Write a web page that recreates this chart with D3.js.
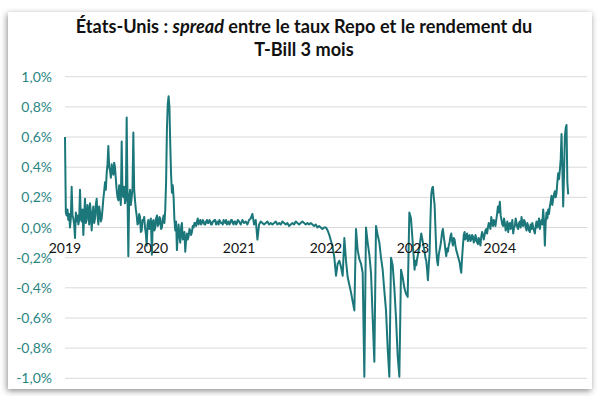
<!DOCTYPE html>
<html><head><meta charset="utf-8">
<script src="https://cdn.jsdelivr.net/npm/d3@7"></script>
<style>
html,body{margin:0;padding:0;background:#fff;}
svg{display:block;}
</style></head>
<body>
<svg id="chart" width="599" height="396"></svg>
<script>
// ---- Data (spread Repo - T-Bill 3 mois, en %), readings every 3.5 or 7 days ----
const spread2019 = [0.60,0.10,0.08,0.12,0.05,0.09,0.00,0.06,0.27,0.08,0.06,0.02,-0.07,0.10,0.04,0.08,0.02,0.05,0.25,0.06,0.04,0.12,-0.05,0.08,0.19,0.03,0.05,0.15,0.12,0.02,0.16,0.10,-0.02,0.08,0.14,0.03,0.06,0.15,0.19,0.08,0.02,0.14,0.10,0.04,0.06,0.12,0.19,0.24,0.30,0.25,0.36,0.42,0.54,0.40,0.38,0.33,0.42,0.37,0.35,0.43,0.40,0.32,0.25,0.20,0.18,0.28,0.22,0.15,0.57,0.22,0.20,0.27,0.16,0.19,0.73,0.21,-0.19,0.20,0.25,0.15,0.20,0.26,0.63,0.25,0.18,0.12,0.08,0.02,0.03,0.09,0.07,-0.03,-0.02,0.05,0.04,0.07,0.00,-0.04,-0.12,0.02,0.05,-0.01,0.02,0.06];
const spread2020 = [-0.18,0.04,0.05,-0.02,0.00,0.06,0.08,0.01,0.02,0.07,0.06,-0.01,0.00,0.05,0.08,0.03,0.12,0.30,0.65,0.82,0.87,0.80,0.55,0.35,0.23,0.28,0.20,0.05,-0.02,0.04,-0.15,-0.05,0.02,-0.06,-0.10,0.00,0.03,-0.08,-0.06,-0.03,-0.16,-0.08,-0.04,-0.08,-0.06,-0.01,-0.02,-0.05,-0.03,0.01,0.00,0.03,0.03,0.01,0.04,0.06,0.02,0.04,0.05,0.02,0.03,0.05,0.04,0.02,0.02,0.04,0.05,0.03,0.03,0.05,0.04,0.02,0.02,0.04,0.04,0.05,0.05,0.02,0.03,0.04,0.02,0.05,0.04,0.03,0.03,0.02,0.05,0.04,0.03,0.05,0.02,0.03,0.04,0.02,0.03,0.05,0.05,0.03,0.02,0.04,0.04,0.02,0.03,0.05];
const spread2021 = [0.04,0.02,0.05,0.03,0.04,0.02,0.05,0.06,0.09,0.02,0.05,-0.08,0.02,0.04,0.03,0.02,0.03,0.04,0.02,0.03,0.02,0.03,0.04,0.02,0.03,0.02,0.04,0.03,0.02,0.03,0.01,0.02,0.03,0.02,0.04,0.03,0.02,0.03,0.04,0.03,0.02,0.03,0.02,0.03,0.02,0.01,0.02,0.00,0.01,0.00,-0.01,0.00];
const spread2022 = [0.00,-0.02,-0.05,-0.09,-0.13,-0.20,-0.32,-0.24,-0.22,-0.26,-0.32,-0.07,-0.22,-0.33,-0.38,-0.43,-0.49,-0.55,-0.01,-0.15,-0.21,-0.24,-0.30,-0.99,0.00,-0.10,-0.18,-0.30,-0.60,-0.89,0.01,-0.05,-0.10,-0.20,-0.28,-0.42,-0.55,-0.80,-0.99,-0.20,-0.25,-0.40,-0.60,-0.85,-0.99,-0.28,-0.33,-0.40,-0.44,-0.46,0.10,0.06];
const spread2023 = [-0.12,-0.20,-0.28,-0.22,-0.25,-0.21,-0.18,-0.15,-0.13,-0.08,-0.04,-0.07,-0.10,-0.13,-0.16,-0.20,-0.22,-0.28,-0.35,-0.25,-0.17,0.05,0.22,0.26,0.27,0.20,0.15,0.00,-0.15,-0.22,-0.25,-0.18,-0.15,-0.12,-0.08,-0.03,-0.01,-0.06,-0.10,-0.15,-0.19,-0.14,-0.16,-0.12,-0.10,-0.06,-0.04,-0.09,-0.12,-0.07,-0.08,-0.12,-0.15,-0.17,-0.19,-0.21,-0.23,-0.27,-0.30,-0.20,-0.12,-0.05,-0.03,-0.08,-0.06,-0.04,-0.09,-0.06,-0.05,-0.09,-0.08,-0.05,-0.06,-0.10,-0.09,-0.05,-0.07,-0.10,-0.11,-0.07,-0.09,-0.12,-0.06,-0.03,-0.05,-0.08,-0.05,-0.02,-0.01,-0.04,0.00,0.03,0.02,-0.01,0.07,0.03,0.01,0.05,0.04,0.01,0.05,0.09,0.14,0.10];
const spread2024 = [0.17,0.08,0.05,0.02,0.01,0.06,0.03,-0.02,0.00,0.04,-0.03,0.02,0.03,-0.01,0.01,0.05,-0.04,0.00,0.01,0.06,0.03,0.00,-0.01,0.03,0.04,0.00,0.07,0.02,0.01,0.05,0.04,0.00,-0.02,0.03,0.01,-0.02,-0.03,0.02,-0.01,0.03,0.00,-0.02,-0.04,0.01,0.04,0.00,0.02,0.06,-0.01,0.03,0.05,0.02,0.12,0.04,-0.12,0.03,0.10,0.06,0.12,0.09,0.14,0.17,0.21,0.15,0.19,0.22,0.24,0.20,0.23,0.30,0.36,0.32,0.38,0.45,0.62,0.40,0.14,0.35,0.60,0.66,0.68,0.30,0.22];
const stepDays = [3.5, 3.5, 7, 7, 3.5, 3.5];
const years = [2019, 2020, 2021, 2022, 2023, 2024];
const yTicks = [-1.0,-0.8,-0.6,-0.4,-0.2,0.0,0.2,0.4,0.6,0.8,1.0];
const titleLine1 = [["États-Unis : ", "normal"], ["spread", "italic"], [" entre le taux Repo et le rendement du", "normal"]];
const titleLine2 = "T-Bill 3 mois";

const seriesByYear = [spread2019, spread2020, spread2021, spread2022, spread2023, spread2024];
const DAY = 864e5;
const data = [];
seriesByYear.forEach((arr, k) => {
  const t0 = Date.UTC(years[k], 0, 1);
  arr.forEach((v, i) => data.push({date: new Date(t0 + i * stepDays[k] * DAY), value: v}));
});

const svg = d3.select("#chart");
const teal = "#1b777a";
const font = "Lato, 'Open Sans', sans-serif";

// card with shadow
const defs = svg.append("defs");
const f = defs.append("filter").attr("id","sh").attr("x","-5%").attr("y","-5%").attr("width","110%").attr("height","110%");
f.append("feDropShadow").attr("dx",-1).attr("dy",2).attr("stdDeviation",3).attr("flood-color","#000").attr("flood-opacity",0.45);
svg.append("rect").attr("x",8).attr("y",12).attr("width",584).attr("height",377)
  .attr("fill","#fff").attr("filter","url(#sh)");

const x = d3.scaleUtc().domain([new Date(Date.UTC(2019,0,1)), new Date(Date.UTC(2025,0,1))]).range([65, 587]);
const y = d3.scaleLinear().domain([-1, 1]).range([378.3, 76.7]);

// gridlines
svg.append("g").selectAll("line").data(yTicks).join("line")
  .attr("x1", 65).attr("x2", 587)
  .attr("y1", d => y(d)).attr("y2", d => y(d))
  .attr("stroke", "#d9d9d9").attr("stroke-width", 1);

// y labels
const fmt = d => (d < 0 ? "-" : "") + Math.abs(d).toFixed(1).replace(".", ",") + "%";
svg.append("g").selectAll("text").data(yTicks).join("text")
  .attr("x", 52).attr("y", d => y(d)).attr("dy", "0.36em")
  .attr("text-anchor", "end").attr("font-family", font).attr("font-size", 14)
  .attr("fill", "#2a8583").text(fmt);

// line
const line = d3.line().x(d => x(d.date)).y(d => y(d.value));
svg.append("path").datum(data).attr("d", line)
  .attr("fill", "none").attr("stroke", teal).attr("stroke-width", 2).attr("stroke-linejoin", "round");

// x labels (at 0 line)
svg.append("g").selectAll("text").data(years).join("text")
  .attr("x", d => x(new Date(Date.UTC(d, 0, 1)))).attr("y", y(0) + 25)
  .attr("text-anchor", "middle").attr("font-family", font).attr("font-size", 14)
  .attr("fill", "#111").text(d => d);

// title
const t1 = svg.append("text").attr("x", 304).attr("y", 33).attr("text-anchor", "middle")
  .attr("font-family", font).attr("font-weight", "bold").attr("font-size", 17).attr("fill", "#111");
titleLine1.forEach(([s, st]) => t1.append("tspan").attr("font-style", st).text(s));
const w = t1.node().getComputedTextLength();
t1.attr("font-size", 17 * 457 / w);
svg.append("text").attr("x", 304).attr("y", 56).attr("text-anchor", "middle")
  .attr("font-family", font).attr("font-weight", "bold").attr("font-size", 17 * 457 / w).attr("fill", "#111")
  .text(titleLine2);
</script>
</body></html>
